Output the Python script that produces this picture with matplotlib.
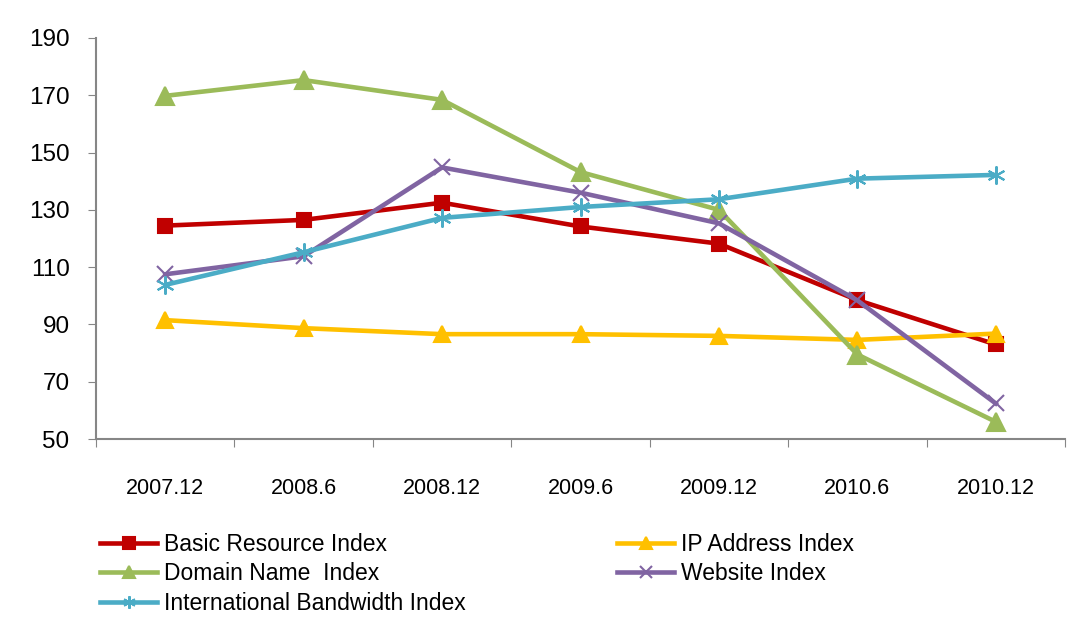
import matplotlib
matplotlib.use('Agg')
import matplotlib.pyplot as plt

# Periods and index values
periods = ['2007.12', '2008.6', '2008.12', '2009.6', '2009.12', '2010.6', '2010.12']
basic_resource = [124.5, 126.5, 132.5, 124.2, 118.2, 98.5, 83.0]
ip_address = [91.5, 88.7, 86.6, 86.6, 86.0, 84.6, 86.8]
domain_name = [169.8, 175.3, 168.4, 143.2, 130.0, 79.5, 56.0]
website = [107.5, 113.8, 144.8, 136.0, 125.3, 98.4, 62.4]
bandwidth = [103.8, 115.2, 127.2, 131.0, 133.7, 140.9, 142.2]

plt.rcParams['font.family'] = ['Liberation Sans', 'DejaVu Sans']

fig = plt.figure(figsize=(10.81, 6.24), dpi=100)
ax = fig.add_axes([96/1081, (624-439)/624, (1065-96)/1081, (439-38)/624])

x = list(range(len(periods)))
series = [
    ('Basic Resource Index', basic_resource, '#C00000', 's', 10),
    ('IP Address Index', ip_address, '#FFC000', '^', 12),
    ('Domain Name  Index', domain_name, '#9BBB59', '^', 13),
    ('Website Index', website, '#8064A2', 'x', 12),
    ('International Bandwidth Index', bandwidth, '#4BACC6', (6, 2, 0), 13),
]
for label, vals, col, mk, ms in series:
    ax.plot(x, vals, color=col, lw=3.3, marker=mk, markersize=ms,
            markeredgewidth=1.5, markeredgecolor=col, label=label,
            solid_joinstyle='round', zorder=3)

ax.set_ylim(50, 190)
ax.set_yticks(range(50, 191, 20))
ax.set_xlim(-0.5, len(periods) - 0.5)
ax.set_xticks([i - 0.5 for i in range(len(periods) + 1)])
ax.set_xticklabels([])
ax.set_xticks(x, minor=True)
ax.set_xticklabels(periods, minor=True, fontsize=15.5)
ax.tick_params(axis='x', which='minor', length=0, pad=28)
ax.tick_params(axis='x', which='major', length=6, color='#868686', direction='out')
ax.tick_params(axis='y', length=6, color='#868686', labelsize=17.5, pad=13)
for s in ['top', 'right']:
    ax.spines[s].set_visible(False)
for s in ['left', 'bottom']:
    ax.spines[s].set_color('#868686')
    ax.spines[s].set_linewidth(1.5)

handles, labels = ax.get_legend_handles_labels()
order = [0, 2, 4, 1, 3]
leg = fig.legend([handles[i] for i in order], [labels[i] for i in order],
                 loc='upper left', bbox_to_anchor=(100/1081, 1 - 533/624),
                 ncol=2, frameon=False, fontsize=16.5, handlelength=2.5,
                 handletextpad=0.3, columnspacing=6.6, labelspacing=0.28,
                 borderaxespad=0, borderpad=0)
for h in leg.legend_handles:
    h.set_markersize(9)

fig.savefig('out.png', dpi=100)
